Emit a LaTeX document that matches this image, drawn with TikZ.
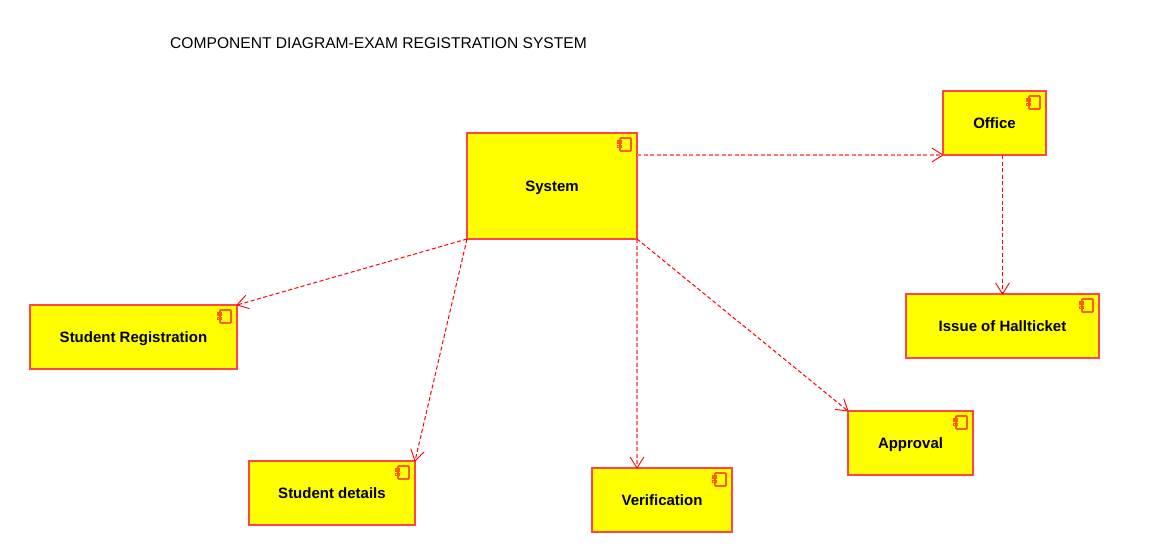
\documentclass[tikz,border=0pt]{standalone}
\usepackage{fontspec}
\setmainfont{Liberation Sans}
\usetikzlibrary{calc}
\definecolor{cline}{HTML}{FF4646}
\definecolor{cfill}{HTML}{FFFF00}
\definecolor{cicon}{HTML}{FF5A00}
\definecolor{cpink}{HTML}{FF7474}
\tikzset{
  comp/.style={draw=cline,fill=cfill,line width=1.7pt,inner sep=0pt,outer sep=0pt,text height=11pt,text depth=0pt,font=\fontsize{15}{17}\selectfont\bfseries,text=black},
  iconrect/.style={draw=cicon,line width=1.8pt,rounded corners=0.8pt},
  dep/.style={draw=red,line width=1pt,dash pattern=on 4pt off 2.5pt},
  deppink/.style={draw=cpink,line width=1.9pt,dash pattern=on 4pt off 2.5pt},
  depsolid/.style={draw=red,line width=1.4pt,dash pattern=on 4pt off 2.5pt},
  head/.style={draw=red,line width=0.9pt}
}
% arrow drawn with an open V head pointing along (#2)->(#3); #1 is the line style
\newcommand{\arrowto}[3][dep]{%
  \draw[#1] (#2) -- (#3);
  \draw[head] ($(#3)!13pt!32:(#2)$) -- (#3) -- ($(#3)!13pt!-32:(#2)$);
}
\newcommand{\compnode}[6]{% name, x0, y0, x1, y1, text
  \node[comp,minimum width={#4-#2},minimum height={#5-#3},anchor=north west] (#1) at (#2,#3) {#6};
  \draw[iconrect] ($(#1.north east)+(-17,5)$) rectangle ($(#1.north east)+(-6,18)$);
  \draw[iconrect,rounded corners=0pt,line width=1.4pt] ($(#1.north east)+(-19.5,8)$) rectangle ($(#1.north east)+(-16,10)$);
  \draw[iconrect,rounded corners=0pt,line width=1.4pt] ($(#1.north east)+(-19.5,12.5)$) rectangle ($(#1.north east)+(-16,14.5)$);
}
\begin{document}
\begin{tikzpicture}[x=1pt,y=-1pt]
\useasboundingbox (0,0) rectangle (1160,555);
\node[anchor=west,inner sep=0pt,font=\fontsize{15.6}{17}\selectfont,text=black] (title) at (170,43) {COMPONENT DIAGRAM-EXAM REGISTRATION SYSTEM};
\compnode{system}{467}{133}{637}{239}{System}
\compnode{office}{943}{91}{1046}{155}{Office}
\compnode{issue}{906}{294}{1099}{358}{Issue of Hallticket}
\compnode{reg}{30}{305}{237}{369}{Student Registration}
\compnode{details}{249}{461}{415}{525}{Student details}
\compnode{verif}{592}{468}{732}{532}{Verification}
\compnode{appr}{848}{411}{973}{475}{Approval}
\coordinate (sysout) at ($(system.north east)+(0,22)$);
\coordinate (offout) at (issue.north |- office.south);
\coordinate (verin) at (system.south east |- verif.north);
\arrowto[deppink]{sysout}{office.south west}
\arrowto[depsolid]{offout}{issue.north}
\arrowto{system.south west}{reg.north east}
\arrowto{system.south west}{details.north east}
\arrowto[deppink]{system.south east}{verin}
\arrowto{system.south east}{appr.north west}
\end{tikzpicture}
\end{document}
